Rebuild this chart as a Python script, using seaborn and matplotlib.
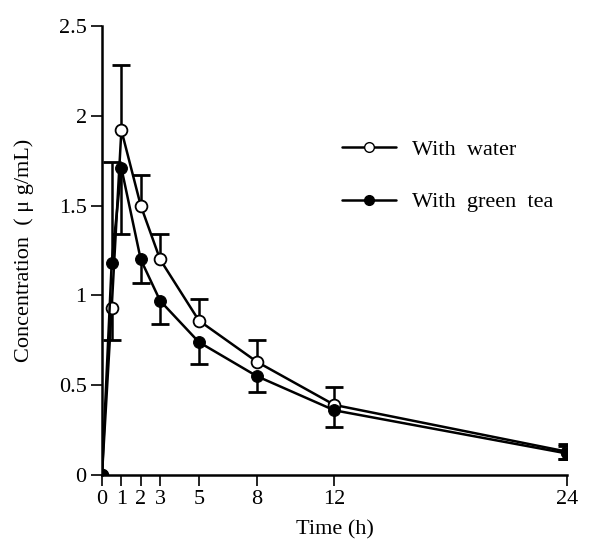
import numpy as np
import pandas as pd
import matplotlib
matplotlib.use("Agg")
import matplotlib.pyplot as plt
import seaborn as sns
from matplotlib.lines import Line2D

time_h = [0, 0.5, 1, 2, 3, 5, 8, 12, 24]
water = [0.0, 0.93, 1.92, 1.50, 1.20, 0.86, 0.63, 0.39, 0.13]
green_tea = [0.0, 1.18, 1.71, 1.20, 0.97, 0.74, 0.55, 0.36, 0.12]
# one-sided SD bars (lower, upper)
water_err_low = [0, 0.18, 0, 0, 0, 0, 0, 0, 0.04]
water_err_up = [0, 0, 0.36, 0.17, 0.14, 0.12, 0.12, 0.10, 0.04]
tea_err_low = [0, 0, 0.37, 0.13, 0.13, 0.12, 0.09, 0.09, 0.03]
tea_err_up = [0, 0.56, 0, 0, 0, 0, 0, 0, 0.04]
x_ticks = [0, 1, 2, 3, 5, 8, 12, 24]
y_ticks = [0, 0.5, 1, 1.5, 2, 2.5]
y_tick_labels = ["0", "0.5", "1", "1.5", "2", "2.5"]

sns.set_theme(style="ticks")
plt.rcParams["font.family"] = ["Liberation Serif", "DejaVu Serif"]
plt.rcParams["text.color"] = "black"
plt.rcParams["axes.labelcolor"] = "black"
plt.rcParams["xtick.color"] = "black"
plt.rcParams["ytick.color"] = "black"

fig = plt.figure(figsize=(5.93, 5.41), dpi=100)
ax = fig.add_axes([0.172, 0.122, 0.784, 0.830])

df_w = pd.DataFrame({"t": time_h, "c": water})
df_g = pd.DataFrame({"t": time_h, "c": green_tea})


def draw_err(x, y, lo, up):
    x = np.asarray(x, float)
    y = np.asarray(y, float)
    lo = np.asarray(lo, float)
    up = np.asarray(up, float)
    for err, sign in ((up, 1), (lo, -1)):
        m = err > 0
        ends = y[m] + sign * err[m]
        ax.vlines(x[m], y[m], ends, colors="black", linewidth=1.8, zorder=2)
        ax.plot(x[m], ends, linestyle="none", marker="_", markersize=13,
                markeredgewidth=2.0, color="black", zorder=2)


draw_err(time_h, water, water_err_low, water_err_up)
draw_err(time_h, green_tea, tea_err_low, tea_err_up)

sns.lineplot(data=df_w, x="t", y="c", ax=ax, color="black", linewidth=1.8,
             marker="o", markersize=8.5, markerfacecolor="white",
             markeredgecolor="black", markeredgewidth=1.3, sort=False, zorder=3)
sns.lineplot(data=df_g, x="t", y="c", ax=ax, color="black", linewidth=1.8,
             marker="o", markersize=8.5, markerfacecolor="black",
             markeredgecolor="black", sort=False, zorder=4)

ax.set_xlim(0, 24)
ax.set_ylim(0, 2.5)
ax.set_xticks(x_ticks)
ax.set_xticklabels([str(v) for v in x_ticks])
ax.set_yticks(y_ticks)
ax.set_yticklabels(y_tick_labels)
for s in ["top", "right"]:
    ax.spines[s].set_visible(False)
for s in ["left", "bottom"]:
    ax.spines[s].set_linewidth(1.8)
    ax.spines[s].set_color("black")
ax.tick_params(axis="both", direction="out", length=8, width=1.2,
               labelsize=16, colors="black", pad=3)
ax.set_xlabel("Time (h)", fontsize=16, labelpad=8)
ax.set_ylabel("Concentration  ( μ g/mL)", fontsize=16, labelpad=18)
for sp in ax.spines.values():
    sp.set_clip_on(False)

handles = [
    Line2D([], [], color="black", linewidth=1.8, marker="o", markersize=7,
           markerfacecolor="white", markeredgecolor="black"),
    Line2D([], [], color="black", linewidth=1.8, marker="o", markersize=7,
           markerfacecolor="black", markeredgecolor="black"),
]
leg = ax.legend(handles, ["With  water", "With  green  tea"], frameon=False,
                loc="upper left", bbox_to_anchor=(0.543, 0.780),
                bbox_transform=fig.transFigure, fontsize=16,
                handlelength=2.45, labelspacing=1.45, handletextpad=0.7)

fig.savefig("out.png", dpi=100)
